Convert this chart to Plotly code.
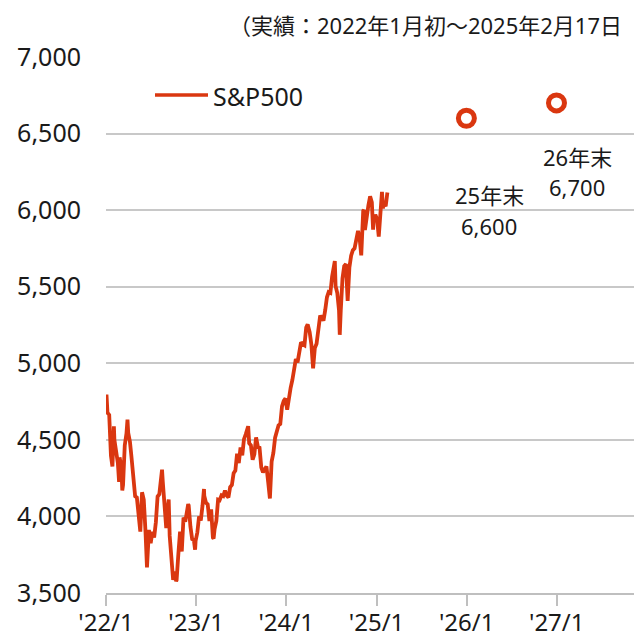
import plotly.graph_objects as go

dates = [
    "2022-01-03","2022-01-07","2022-01-14","2022-01-21","2022-01-27","2022-01-28","2022-02-02","2022-02-04",
    "2022-02-11","2022-02-18","2022-02-23","2022-02-25","2022-03-04","2022-03-08","2022-03-11","2022-03-18",
    "2022-03-25","2022-03-29","2022-04-01","2022-04-08","2022-04-14","2022-04-22","2022-04-29","2022-05-06",
    "2022-05-13","2022-05-20","2022-05-27","2022-06-03","2022-06-10","2022-06-16","2022-06-24","2022-07-01",
    "2022-07-08","2022-07-15","2022-07-22","2022-07-29","2022-08-05","2022-08-12","2022-08-16","2022-08-19",
    "2022-08-26","2022-09-02","2022-09-09","2022-09-12","2022-09-16","2022-09-23","2022-09-30","2022-10-07",
    "2022-10-12","2022-10-14","2022-10-21","2022-10-28","2022-11-04","2022-11-11","2022-11-18","2022-11-25",
    "2022-11-30","2022-12-02","2022-12-09","2022-12-16","2022-12-23","2022-12-28","2022-12-30",
    "2023-01-06","2023-01-13","2023-01-20","2023-01-27","2023-02-02","2023-02-03","2023-02-10","2023-02-17",
    "2023-02-24","2023-03-03","2023-03-10","2023-03-13","2023-03-17","2023-03-24","2023-03-31","2023-04-06",
    "2023-04-14","2023-04-21","2023-04-28","2023-05-05","2023-05-12","2023-05-19","2023-05-26","2023-06-02",
    "2023-06-09","2023-06-16","2023-06-23","2023-06-30","2023-07-07","2023-07-14","2023-07-21","2023-07-31",
    "2023-08-04","2023-08-11","2023-08-18","2023-08-25","2023-09-01","2023-09-08","2023-09-15","2023-09-22",
    "2023-09-29","2023-10-06","2023-10-13","2023-10-20","2023-10-27","2023-11-03","2023-11-10","2023-11-17",
    "2023-11-24","2023-12-01","2023-12-08","2023-12-15","2023-12-22","2023-12-29",
    "2024-01-05","2024-01-12","2024-01-19","2024-01-26","2024-02-02","2024-02-09","2024-02-16","2024-02-23",
    "2024-03-01","2024-03-08","2024-03-15","2024-03-22","2024-03-28","2024-04-05","2024-04-12","2024-04-19",
    "2024-04-26","2024-05-03","2024-05-10","2024-05-17","2024-05-24","2024-05-31","2024-06-07","2024-06-14",
    "2024-06-21","2024-06-28","2024-07-05","2024-07-12","2024-07-16","2024-07-19","2024-07-26","2024-08-02",
    "2024-08-05","2024-08-09","2024-08-16","2024-08-23","2024-08-30","2024-09-06","2024-09-13","2024-09-20",
    "2024-09-27","2024-10-04","2024-10-11","2024-10-18","2024-10-25","2024-10-31","2024-11-08","2024-11-11",
    "2024-11-15","2024-11-22","2024-11-29","2024-12-06","2024-12-13","2024-12-18","2024-12-20","2024-12-27",
    "2025-01-03","2025-01-10","2025-01-17","2025-01-23","2025-01-27","2025-01-31","2025-02-07","2025-02-14",
]
sp500 = [
    4796,4677,4663,4398,4326,4432,4589,4501,
    4419,4349,4225,4385,4329,4170,4204,4463,
    4543,4632,4546,4488,4392,4272,4132,4123,
    4024,3901,4158,4109,3901,3667,3912,3825,
    3899,3863,3962,4130,4145,4280,4305,4228,
    4058,3924,4067,4110,3873,3693,3586,3640,
    3577,3583,3752,3901,3771,3993,3965,4026,
    4080,4072,3934,3852,3845,3783,3840,
    3895,3999,3973,4071,4179,4136,4090,4079,
    3970,4046,3862,3855,3917,3971,4109,4105,
    4138,4133,4169,4136,4124,4192,4205,4282,
    4299,4410,4348,4450,4399,4505,4536,4589,
    4478,4464,4370,4406,4516,4457,4450,4320,
    4288,4308,4327,4224,4117,4358,4415,4514,
    4559,4595,4604,4719,4755,4770,
    4697,4784,4840,4891,4959,5027,5006,5089,
    5137,5124,5117,5234,5254,5204,5123,4967,
    5100,5128,5223,5303,5305,5278,5347,5431,
    5465,5460,5567,5615,5667,5505,5459,5346,
    5186,5344,5554,5635,5648,5408,5626,5703,
    5738,5751,5815,5865,5808,5705,5996,6001,
    5870,5969,6032,6090,6051,5872,5931,5970,
    5942,5827,5997,6119,6012,6041,6026,6115,
]

forecast_dates = ["2025-12-31", "2026-12-31"]
forecast_values = [6600, 6700]
forecast_labels = ["25年末", "26年末"]
forecast_texts = ["6,600", "6,700"]

tick_vals = ["2022-01-01", "2023-01-01", "2024-01-01", "2025-01-01", "2026-01-01", "2027-01-01"]
tick_text = ["'22/1", "'23/1", "'24/1", "'25/1", "'26/1", "'27/1"]
y_ticks = [3500, 4000, 4500, 5000, 5500, 6000, 6500, 7000]

RED = "#DA3710"
FONT = "Noto Sans, Noto Sans CJK JP, sans-serif"

fig = go.Figure()
fig.add_trace(go.Scatter(x=dates, y=sp500, mode="lines",
                         line=dict(color=RED, width=3.8), name="S&P500",
                         showlegend=False, cliponaxis=False))
fig.add_trace(go.Scatter(x=forecast_dates, y=forecast_values, mode="markers",
                         marker=dict(symbol="circle-open", size=16, color=RED,
                                     line=dict(width=5, color=RED)),
                         showlegend=False, cliponaxis=False))

annotations = []
shifts = [(23, -77, -108), (21, -54, -84)]
for d, v, lab, txt, (xs, y1, y2) in zip(forecast_dates, forecast_values, forecast_labels, forecast_texts, shifts):
    annotations.append(dict(x=d, y=v, xref="x", yref="y", text=lab, showarrow=False,
                            xshift=xs, yshift=y1, font=dict(size=22, color="#1a1a1a", family=FONT)))
    annotations.append(dict(x=d, y=v, xref="x", yref="y", text=txt, showarrow=False,
                            xshift=xs, yshift=y2, font=dict(size=22, color="#1a1a1a", family=FONT)))

# legend (custom)
annotations.append(dict(x=(211 - 106) / 528, y=(593 - 96) / 536, xref="paper", yref="paper",
                        xanchor="left", yanchor="middle", text="S&P500", showarrow=False,
                        font=dict(size=25, color="#1a1a1a", family=FONT)))
# subtitle
annotations.append(dict(x=(624 - 106) / 528, y=(593 - 25) / 536, xref="paper", yref="paper",
                        xanchor="right", yanchor="middle", text="（実績：2022年1月初～2025年2月17日",
                        showarrow=False, font=dict(size=22, color="#1a1a1a", family=FONT)))

fig.update_layout(
    width=634, height=639,
    margin=dict(l=106, r=0, t=57, b=46),
    paper_bgcolor="white", plot_bgcolor="white",
    font=dict(family=FONT, color="#1a1a1a"),
    annotations=annotations,
    shapes=[dict(type="line", xref="paper", yref="paper",
                 x0=(155 - 106) / 528, x1=(208 - 106) / 528,
                 y0=(593 - 95) / 536, y1=(593 - 95) / 536,
                 line=dict(color=RED, width=3.5))],
    xaxis=dict(type="date", range=["2022-01-01", "2027-11-10"], automargin=False,
               tickvals=tick_vals, ticktext=tick_text,
               ticks="outside", ticklen=11, tickwidth=1.5, tickcolor="#bfbfbf",
               showline=True, linecolor="#bfbfbf", linewidth=1.5,
               showgrid=False, zeroline=False, ticklabelstandoff=-4,
               tickfont=dict(size=24, color="#1a1a1a", family=FONT)),
    yaxis=dict(range=[3500, 7000], tickvals=y_ticks, tickformat=",", automargin=False,
               showgrid=True, gridcolor="#c8c8c8", gridwidth=1.5,
               zeroline=False, showline=False, ticks="", ticklabelstandoff=24,
               tickfont=dict(size=25, color="#1a1a1a", family=FONT)),
)

fig.write_html("out.html", config={"displayModeBar": False},
               post_script="document.body.style.margin='0';document.body.style.overflow='hidden';")
